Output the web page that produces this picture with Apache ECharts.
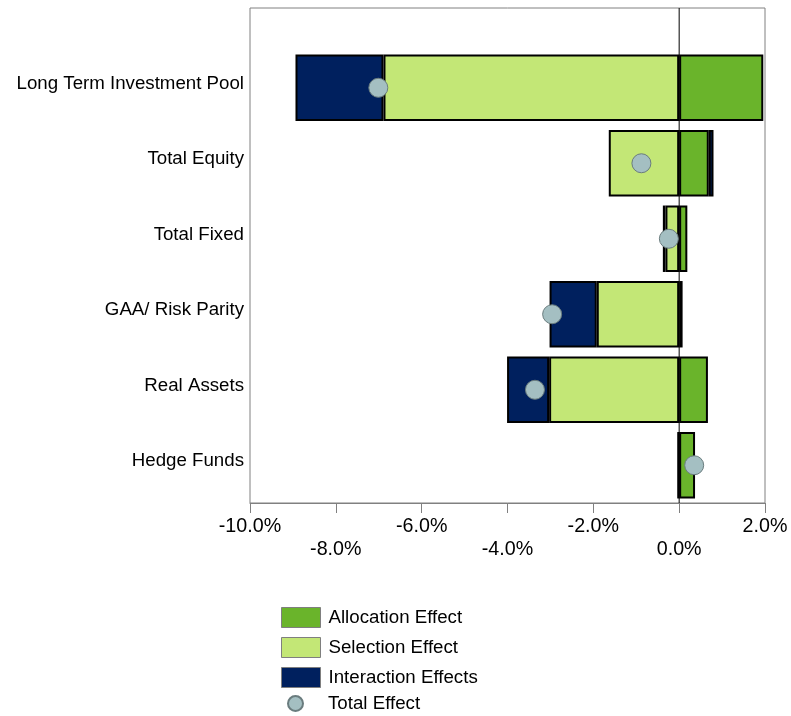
<!DOCTYPE html>
<html>
<head>
<meta charset="utf-8">
<script src="https://cdn.jsdelivr.net/npm/echarts@6/dist/echarts.min.js"></script>
<style>
  html, body { margin: 0; padding: 0; background: #fff; }
  #chart { width: 791px; height: 716px; }
</style>
</head>
<body>
<div id="chart"></div>
<script>
// 数据
var categories = ['Long Term Investment Pool', 'Total Equity', 'Total Fixed', 'GAA/ Risk Parity', 'Real Assets', 'Hedge Funds']
var allocation = [1.96, 0.69, 0.19, 0.08, 0.67, 0.37]
var selection = [-6.89, -1.64, -0.32, -1.92, -3.03, -0.02]
var interaction = [-2.05, 0.11, -0.06, -1.10, -0.98, 0]
var totalEffect = [-7.01, -0.88, -0.24, -2.96, -3.36, 0.35]
var xMin = -10
var xMax = 2
var xStep = 2

var font = 'Liberation Sans, Arial, sans-serif'

var chart = echarts.init(document.getElementById('chart'))

var option = {
  animation: false,
  textStyle: { fontFamily: font },
  grid: [
    // 外框 + 横轴
    { left: 250, top: 8, width: 515, height: 495, show: true, borderColor: '#808080', borderWidth: 1, backgroundColor: 'transparent' },
    // 条形
    { left: 250, top: 50, width: 515, height: 453 }
  ],
  legend: [
    {
      data: ['Allocation Effect', 'Selection Effect', 'Interaction Effects'],
      orient: 'vertical',
      left: 276,
      top: 602,
      icon: 'rect',
      itemWidth: 39,
      itemHeight: 20,
      itemGap: 9,
      selectedMode: false,
      itemStyle: { borderColor: '#7f7f7f', borderWidth: 1 },
      textStyle: { fontSize: 18.7, color: '#000', fontFamily: font, padding: [0, 0, 0, 3] }
    },
    {
      data: ['Total Effect'],
      orient: 'vertical',
      left: 282,
      top: 689,
      itemWidth: 39,
      itemHeight: 15,
      icon: 'circle',
      selectedMode: false,
      textStyle: { fontSize: 18.7, color: '#000', fontFamily: font, padding: [0, 0, 0, 8] }
    }
  ],
  xAxis: [
    {
      type: 'value',
      gridIndex: 0,
      min: xMin,
      max: xMax,
      interval: xStep,
      axisLine: { show: true, onZero: false, lineStyle: { color: '#808080', width: 1 } },
      axisTick: { show: true, length: 10, lineStyle: { color: '#808080' } },
      splitLine: { show: false },
      axisLabel: {
        color: '#000',
        fontSize: 19.7,
        fontFamily: font,
        margin: 12,
        lineHeight: 23,
        // 标签上下错开
        formatter: function (value, index) {
          var txt = value.toFixed(1) + '%'
          return index % 2 === 1 ? '\n' + txt : txt
        }
      }
    },
    {
      type: 'value',
      gridIndex: 1,
      min: xMin,
      max: xMax,
      show: false
    }
  ],
  yAxis: [
    {
      type: 'value',
      gridIndex: 0,
      min: 0,
      max: 1,
      show: false
    },
    {
      type: 'category',
      gridIndex: 1,
      inverse: true,
      data: categories,
      axisLine: { show: false },
      axisTick: { show: false },
      axisLabel: {
        margin: 6,
        formatter: function (value) {
          return '{t|' + value + '}'
        },
        rich: {
          t: { color: '#000', fontSize: 18.7, fontFamily: font, padding: [0, 0, 8, 0] }
        }
      }
    }
  ],
  series: [
    {
      name: 'Allocation Effect',
      type: 'bar',
      xAxisIndex: 1,
      yAxisIndex: 1,
      stack: 'effect',
      barCategoryGap: '12%',
      itemStyle: { color: '#6ab42b', borderColor: '#000', borderWidth: 2 },
      data: allocation
    },
    {
      name: 'Selection Effect',
      type: 'bar',
      xAxisIndex: 1,
      yAxisIndex: 1,
      stack: 'effect',
      itemStyle: { color: '#c3e776', borderColor: '#000', borderWidth: 2 },
      data: selection
    },
    {
      name: 'Interaction Effects',
      type: 'bar',
      xAxisIndex: 1,
      yAxisIndex: 1,
      stack: 'effect',
      itemStyle: { color: '#00205e', borderColor: '#000', borderWidth: 2 },
      data: interaction
    },
    {
      // 零线
      type: 'line',
      xAxisIndex: 0,
      yAxisIndex: 0,
      symbol: 'none',
      silent: true,
      z: 3,
      lineStyle: { color: '#000', width: 1 },
      data: [[0, 0], [0, 1]]
    },
    {
      name: 'Total Effect',
      type: 'scatter',
      xAxisIndex: 1,
      yAxisIndex: 1,
      symbolSize: 19,
      z: 5,
      itemStyle: { color: '#a4bfc2', borderColor: '#6a7c7e', borderWidth: 1, opacity: 1 },
      data: totalEffect.map(function (v, i) { return [v, i] })
    }
  ]
}

chart.setOption(option)
</script>
</body>
</html>
